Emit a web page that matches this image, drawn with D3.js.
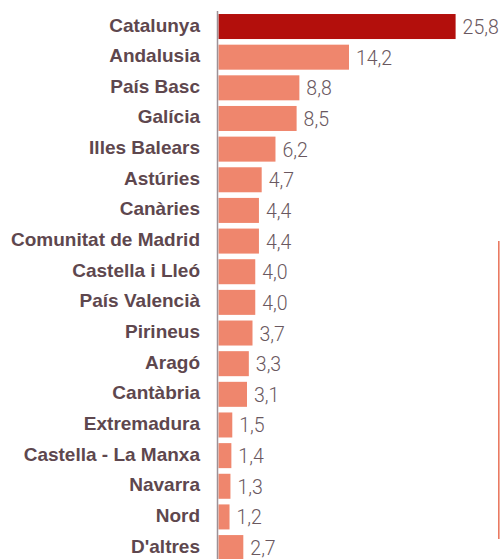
<!DOCTYPE html>
<html>
<head>
<meta charset="utf-8">
<script src="https://cdn.jsdelivr.net/npm/d3@7/dist/d3.min.js"></script>
<style>
  html, body { margin: 0; padding: 0; background: #fff; }
  svg { display: block; }
</style>
</head>
<body>
<svg id="chart" width="500" height="559"></svg>
<script>
const categories = ["Catalunya", "Andalusia", "País Basc", "Galícia", "Illes Balears", "Astúries", "Canàries", "Comunitat de Madrid", "Castella i Lleó", "País Valencià", "Pirineus", "Aragó", "Cantàbria", "Extremadura", "Castella - La Manxa", "Navarra", "Nord", "D'altres"];
const values = [25.8, 14.2, 8.8, 8.5, 6.2, 4.7, 4.4, 4.4, 4.0, 4.0, 3.7, 3.3, 3.1, 1.5, 1.4, 1.3, 1.2, 2.7];
const valueLabels = ["25,8", "14,2", "8,8", "8,5", "6,2", "4,7", "4,4", "4,4", "4,0", "4,0", "3,7", "3,3", "3,1", "1,5", "1,4", "1,3", "1,2", "2,7"];

const svg = d3.select("#chart");
const W = 500, H = 559;
const x0 = 218.5;

const x = d3.scaleLinear().domain([0, 28]).range([x0, x0 + 28 * 9.19]);
const y = d3.scaleBand().domain(categories)
  .range([11.2, 11.2 + 18 * 30.65])
  .paddingInner(0.184).paddingOuter(0.092);

// bars
svg.append("g").selectAll("rect")
  .data(categories)
  .join("rect")
  .attr("x", x(0))
  .attr("y", d => y(d))
  .attr("width", (d, i) => x(values[i]) - x(0))
  .attr("height", y.bandwidth())
  .attr("fill", (d, i) => i === 0 ? "#b30f0c" : "#ef866d");

// axis line
svg.append("line")
  .attr("x1", x0 - 1).attr("x2", x0 - 1)
  .attr("y1", 11).attr("y2", H)
  .attr("stroke", "#9c9196").attr("stroke-width", 1.5);

// category labels
svg.append("g").selectAll("text")
  .data(categories)
  .join("text")
  .attr("x", 200)
  .attr("y", d => y(d) + y.bandwidth() / 2 + 5)
  .attr("text-anchor", "end")
  .attr("font-family", "'Helvetica Neue', Arial, 'Liberation Sans', sans-serif")
  .attr("font-weight", "bold")
  .attr("font-size", "19px")
  .attr("fill", "#5e474e")
  .text(d => d);

// value labels
svg.append("g").selectAll("text")
  .data(categories)
  .join("text")
  .attr("x", (d, i) => x(values[i]) + 7)
  .attr("y", d => y(d) + y.bandwidth() / 2 + 7.5)
  .attr("font-family", "'Helvetica Neue', Roboto, Arial, sans-serif")
  .attr("font-weight", 300)
  .attr("font-size", "19.5px")
  .attr("fill", "#6a5860")
  .text((d, i) => valueLabels[i]);

// right decorative line
const startCat = categories[7];
const endCat = categories[17];
svg.append("line")
  .attr("x1", 498.8).attr("x2", 498.8)
  .attr("y1", y(startCat) + y.bandwidth() / 2)
  .attr("y2", y(endCat) + 4)
  .attr("stroke", "#ea7a62").attr("stroke-width", 1.6);
</script>
</body>
</html>
